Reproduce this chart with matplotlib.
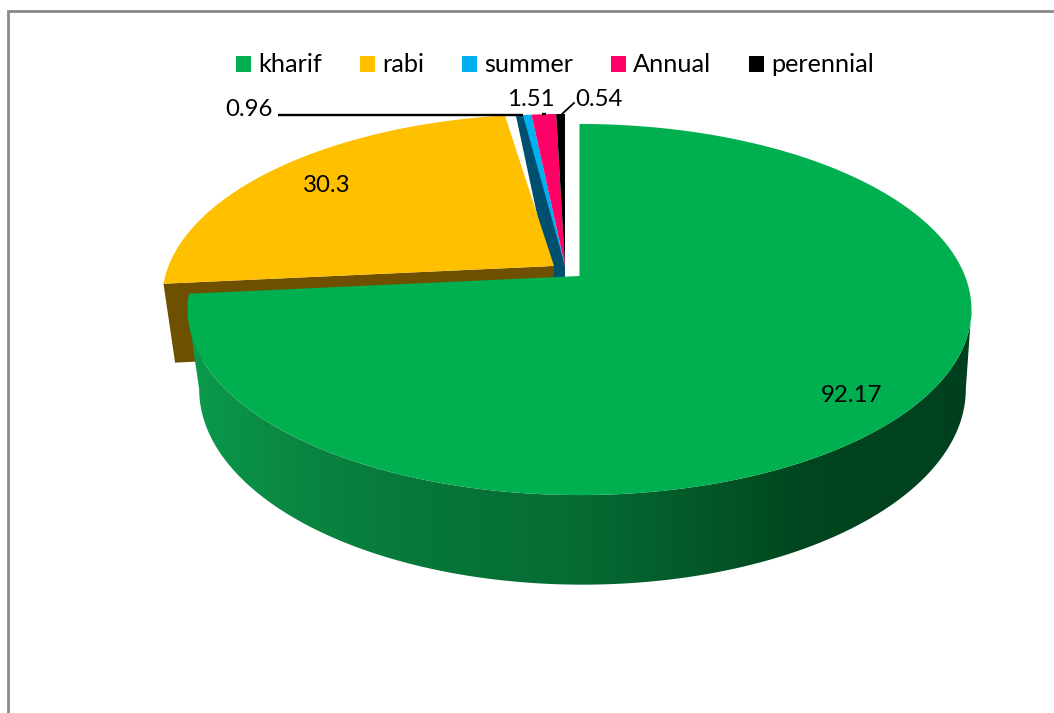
import numpy as np
import matplotlib
matplotlib.use("Agg")
import matplotlib.pyplot as plt
from matplotlib.colors import LinearSegmentedColormap
from matplotlib.patches import Patch, Polygon

plt.rcParams["font.family"] = ["Lato", "DejaVu Sans"]

# Season areas
categories = ["kharif", "rabi", "summer", "Annual", "perennial"]
values = [92.17, 30.3, 0.96, 1.51, 0.54]
value_labels = ["92.17", "30.3", "0.96", "1.51", "0.54"]
top_colors = ["#00B050", "#FFC000", "#00B0F0", "#FF0066", "#000000"]

# Pie projection (pixel-based axes)
A, B, K = 385.5, 179.5, 0.1806
LOWER_A, LOWER_B, LOWER_DROP, LOWER_SHIFT = 377.0, 189.0, 78.0, 3.0
centres = [(579.5, 276.0), (554.0, 266.0), (565.0, 266.0), (565.0, 266.0), (565.0, 266.0)]


def rim(theta, centre):
    t = np.radians(theta)
    w = 1 + K * np.cos(t)
    return centre[0] + A * np.sin(t) / w, centre[1] - B * np.cos(t) / w


def lower_rim(theta, centre):
    t = np.radians(theta)
    w = 1 + K * np.cos(t)
    return (centre[0] + LOWER_SHIFT + LOWER_A * np.sin(t) / w,
            centre[1] + LOWER_DROP - LOWER_B * np.cos(t) / w)


def wedge_points(a0, a1, centre):
    th = np.linspace(a0, a1, 300)
    x, y = rim(th, centre)
    return np.vstack([[centre], np.column_stack([x, y])])


total = sum(values)
edges = np.concatenate([[0], np.cumsum(values)]) / total * 360

fig = plt.figure(figsize=(10.54, 7.13), dpi=100)
ax = fig.add_axes([0, 0, 1, 1])
ax.set_xlim(0, 1054)
ax.set_ylim(713, 0)
ax.axis("off")

# Chart frame: only the top and left edges fall inside the canvas
ax.plot([8, 8, 1054], [713, 11, 11], color="#8A8A8A", lw=2.0, solid_joinstyle="miter", zorder=1)

# Small slices at the back
summer_dark = edges[2] + 0.45 * (edges[3] - edges[2])
ax.add_patch(Polygon(wedge_points(edges[2], edges[3], centres[2]), fc=top_colors[2], ec="none", zorder=2))
sx0, sy0 = rim(edges[2], centres[2])
sx1, sy1 = rim(summer_dark, centres[2])
ax.add_patch(Polygon([(sx0, sy0), (sx1, sy1), centres[2],
                      (centres[2][0], centres[2][1] + 14),
                      (centres[1][0] - 3, centres[1][1] + 14)],
                     fc="#014F6E", ec="none", zorder=3))
ax.add_patch(Polygon(wedge_points(edges[3], edges[4], centres[3]), fc=top_colors[3], ec="none", zorder=3))
ax.add_patch(Polygon(wedge_points(edges[4], edges[5], centres[4]), fc=top_colors[4], ec="none", zorder=3))

# Rabi slice: cut face, then top surface
c = centres[1]
rx, ry = rim(edges[1], c)
lx, ly = lower_rim(edges[1], c)
ax.add_patch(Polygon([(rx, ry), c, (c[0], c[1] + LOWER_DROP), (lx, ly)],
                     fc="#6D5100", ec="none", zorder=4))
ax.add_patch(Polygon(wedge_points(edges[1], edges[2], c), fc=top_colors[1], ec="none", zorder=5))

# Kharif slice: shaded outer wall, then top surface
c = centres[0]
scan = np.linspace(edges[0], edges[1], 2000)
sx = rim(scan, c)[0]
th_wall = np.linspace(scan[np.argmax(sx)], scan[np.argmin(sx)], 500)
ux, uy = rim(th_wall, c)
bx, by = lower_rim(th_wall, c)
wall = Polygon(np.vstack([np.column_stack([ux, uy]), np.column_stack([bx, by])[::-1]]),
               fc="none", ec="none", zorder=6)
ax.add_patch(wall)
stops = [(0.0, "#0B9A4C"), (0.14, "#0A8541"), (0.28, "#07783A"), (0.5, "#056B33"),
         (0.68, "#035426"), (0.78, "#00461F"), (1.0, "#00401E")]
shade = LinearSegmentedColormap.from_list("wall", stops)
img = ax.imshow(np.linspace(0, 1, 512)[None, :], cmap=shade, aspect="auto",
                extent=[190, 975, 600, 280], zorder=6, interpolation="bilinear")
img.set_clip_path(wall)
ax.set_xlim(0, 1054)
ax.set_ylim(713, 0)
ax.add_patch(Polygon(wedge_points(edges[0], edges[1], c), fc=top_colors[0], ec="none", zorder=7))

# Leader lines
ax.plot([278, 523], [115, 115], color="black", lw=1.7, zorder=8, solid_capstyle="butt")
ax.plot([542, 546], [114, 114], color="black", lw=1.7, zorder=8, solid_capstyle="butt")
ax.plot([562, 574], [114, 103], color="black", lw=1.3, zorder=8)

# Value labels
label_pos = [(852, 396), (327, 186), (249, 110), (531, 100), (599, 100)]
for text, (x, y) in zip(value_labels, label_pos):
    ax.text(x, y, text, ha="center", va="center", fontsize=17.3, color="black", zorder=9)

# Legend
handles = [Patch(fc=col, ec="none", label=name) for col, name in zip(top_colors, categories)]
ax.legend(handles=handles, ncol=5, loc="center", bbox_to_anchor=(555 / 1054, 1 - 65 / 713),
          frameon=False, fontsize=18.2, handlelength=0.59, handleheight=0.59,
          handletextpad=0.29, columnspacing=1.5, borderpad=0, labelcolor="black")

fig.savefig("out.png", dpi=100)
